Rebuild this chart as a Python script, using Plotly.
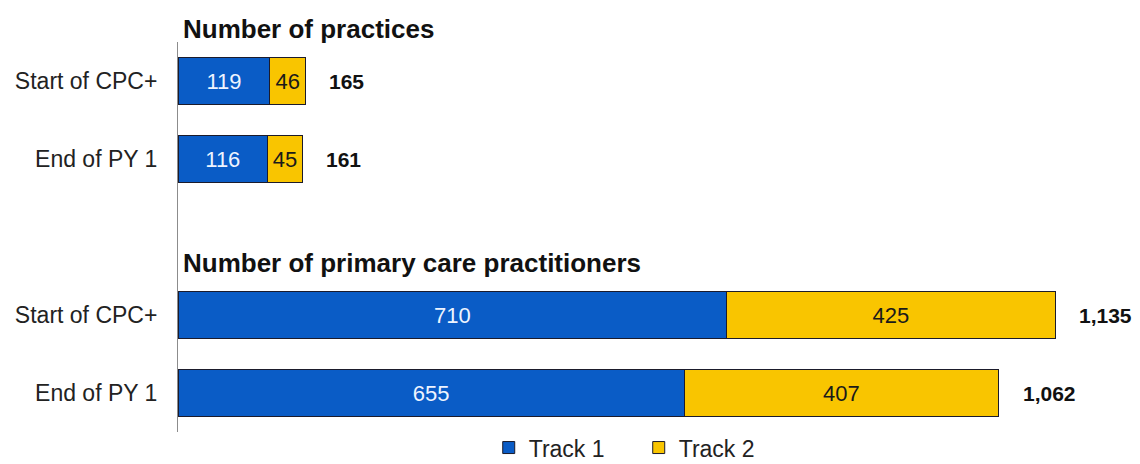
import plotly.graph_objects as go

# Data
row_labels = ["Start of CPC+", "End of PY 1", "Start of CPC+", "End of PY 1"]
row_pos = [4, 3, 1, 0]
track1 = [119, 116, 710, 655]
track2 = [46, 45, 425, 407]
totals = [a + b for a, b in zip(track1, track2)]
section_titles = ["Number of practices", "Number of primary care practitioners"]
section_title_pos = [4.67, 1.67]

Y_RANGE = [-0.5, 4.5]
BLUE = "#0A5CC6"
YELLOW = "#F9C500"
FONT = "Liberation Sans, Arial, sans-serif"

fig = go.Figure()
fig.add_trace(go.Bar(
    y=row_pos, x=track1, orientation="h", name="Track 1",
    marker=dict(color=BLUE, line=dict(color="#1b1b2b", width=1)),
    width=0.59, text=[str(v) for v in track1], textposition="inside",
    insidetextanchor="middle", textangle=0,
    textfont=dict(family=FONT, size=22, color="#eef4ff"),
    hoverinfo="skip",
))
fig.add_trace(go.Bar(
    y=row_pos, x=track2, orientation="h", name="Track 2",
    marker=dict(color=YELLOW, line=dict(color="#1b1b2b", width=1)),
    width=0.59, text=[str(v) for v in track2], textposition="inside",
    insidetextanchor="middle", textangle=0,
    textfont=dict(family=FONT, size=22, color="#1a1a1a"),
    hoverinfo="skip",
))

for t, p in zip(totals, row_pos):
    fig.add_annotation(x=t, y=p, xref="x", yref="y", text=f"<b>{t:,}</b>",
                       showarrow=False, xanchor="left", xshift=22,
                       font=dict(family=FONT, size=21, color="#111111"))

for title, p in zip(section_titles, section_title_pos):
    py = (p - Y_RANGE[0]) / (Y_RANGE[1] - Y_RANGE[0])
    fig.add_annotation(x=0, y=py, xref="x", yref="paper", text=f"<b>{title}</b>",
                       showarrow=False, xanchor="left", yanchor="middle", xshift=3,
                       font=dict(family=FONT, size=26, color="#111111"))

# page body has an 8px margin, so the figure is sized to fit the window
fig.update_layout(
    width=1132, height=456,
    margin=dict(l=170, r=0, t=34, b=32, autoexpand=False),
    barmode="stack",
    plot_bgcolor="white", paper_bgcolor="white",
    showlegend=True,
    legend=dict(orientation="h", x=0.323, xanchor="left",
                yref="container", y=0.036, yanchor="middle",
                font=dict(family=FONT, size=23, color="#222222"),
                entrywidth=105, entrywidthmode="pixels",
                itemwidth=30, traceorder="normal", bgcolor="rgba(0,0,0,0)"),
    font=dict(family=FONT),
)
fig.update_xaxes(range=[0, 1245], showgrid=False, zeroline=False, showline=False,
                 showticklabels=False, ticks="", automargin=False)
fig.update_yaxes(range=Y_RANGE, tickvals=row_pos, ticktext=row_labels,
                 showgrid=False, zeroline=False, showline=True, linecolor="#8c8c8c",
                 linewidth=1, ticks="", ticklabelstandoff=15, automargin=False,
                 tickfont=dict(family=FONT, size=23, color="#222222"))

fig.write_html("out.html")
